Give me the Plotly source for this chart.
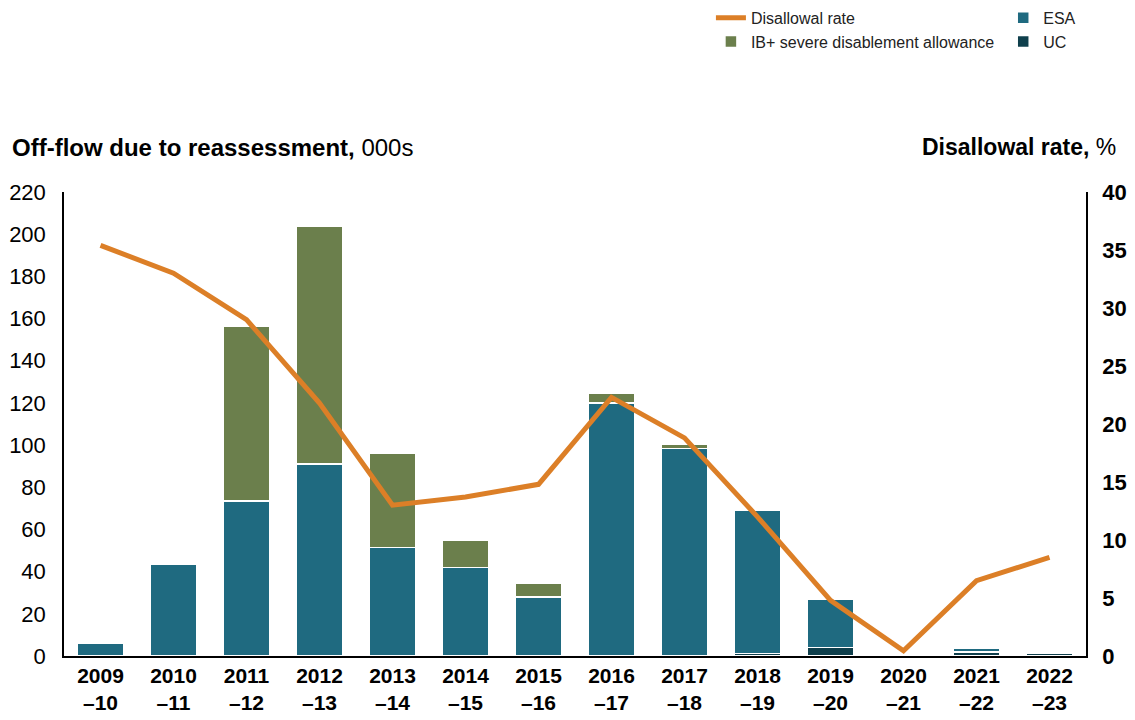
import plotly.graph_objects as go

# Financial years on the x axis
years = ['2009<br>–10', '2010<br>–11', '2011<br>–12', '2012<br>–13', '2013<br>–14',
         '2014<br>–15', '2015<br>–16', '2016<br>–17', '2017<br>–18', '2018<br>–19',
         '2019<br>–20', '2020<br>–21', '2021<br>–22', '2022<br>–23']

# Off-flow due to reassessment, 000s
uc = [0, 0, 0, 0, 0, 0, 0, 0, 0, 1.3, 4.0, 0, 2.0, 1.4]
esa = [6, 43.5, 73.5, 91, 51.5, 42, 28, 120, 98.5, 68, 23, 0, 1.8, 0]
ib_sda = [0, 0, 83, 113, 44.5, 13, 6.5, 4.5, 1.7, 0, 0, 0, 0, 0]

# Disallowal rate, %
rate = [35.4, 33.0, 29.0, 21.8, 13.0, 13.7, 14.8, 22.3, 18.8, 12.0, 4.8, 0.45, 6.5, 8.5]

FONT = 'Liberation Sans, Arial, sans-serif'
ESA_C = '#1f6a80'
IB_C = '#6b7f4c'
UC_C = '#0f3f4c'
LINE_C = '#dc7f27'

fig = go.Figure()

bar_line = dict(color='white', width=1.5)
fig.add_trace(go.Bar(x=years, y=uc, name='UC', marker=dict(color=UC_C, line=bar_line),
                     legend='legend2', legendrank=2))
fig.add_trace(go.Bar(x=years, y=esa, name='ESA', marker=dict(color=ESA_C, line=bar_line),
                     legend='legend2', legendrank=1))
fig.add_trace(go.Bar(x=years, y=ib_sda, name='IB+ severe disablement allowance',
                     marker=dict(color=IB_C, line=bar_line), legend='legend', legendrank=2))
fig.add_trace(go.Scatter(x=years, y=rate, name='Disallowal rate', yaxis='y2', mode='lines',
                         line=dict(color=LINE_C, width=5), legend='legend', legendrank=1))

legend_style = dict(orientation='v', xanchor='left', yanchor='top', yref='paper',
                    traceorder='normal', font=dict(family=FONT, size=16, color='#222'),
                    bgcolor='rgba(0,0,0,0)', tracegroupgap=0, itemwidth=30)

fig.update_layout(
    width=1135, height=720,
    margin=dict(l=64, r=49, t=192, b=64, autoexpand=False),
    barmode='stack', bargap=0.37,
    plot_bgcolor='white', paper_bgcolor='white',
    font=dict(family=FONT, size=22, color='black'),
    showlegend=True,
    legend=dict(x=0.633, y=1.412, **legend_style),
    legend2=dict(x=0.919, y=1.412, **legend_style),
    xaxis=dict(showline=True, linecolor='black', linewidth=1.5, ticks='', automargin=False,
               tickfont=dict(size=21, weight='bold'), showgrid=False),
    yaxis=dict(range=[0, 220], dtick=20, showline=True, linecolor='black', linewidth=1.5,
               ticks='', showgrid=False, zeroline=False, ticklabelstandoff=12,
               automargin=False, tickfont=dict(size=22)),
    yaxis2=dict(range=[0, 40], dtick=5, overlaying='y', side='right', showline=True,
                linecolor='black', linewidth=1.5, ticks='', showgrid=False, zeroline=False,
                ticklabelstandoff=10, automargin=False, tickfont=dict(size=22, weight='bold')),
    annotations=[
        dict(text='<b>Off-flow due to reassessment,</b> 000s', xref='paper', yref='paper',
             x=-0.053, y=1.0, yshift=45, xanchor='left', yanchor='middle', showarrow=False,
             font=dict(size=24)),
        dict(text='<b>Disallowal rate,</b> %', xref='paper', yref='paper',
             x=1.031, y=1.0, yshift=45, xanchor='right', yanchor='middle', showarrow=False,
             font=dict(size=23)),
    ],
)

# drop the default body margin so the figure sits at the page corner
fig.write_html('out.html', config={'displayModeBar': False},
               post_script="document.body.style.margin='0';")
